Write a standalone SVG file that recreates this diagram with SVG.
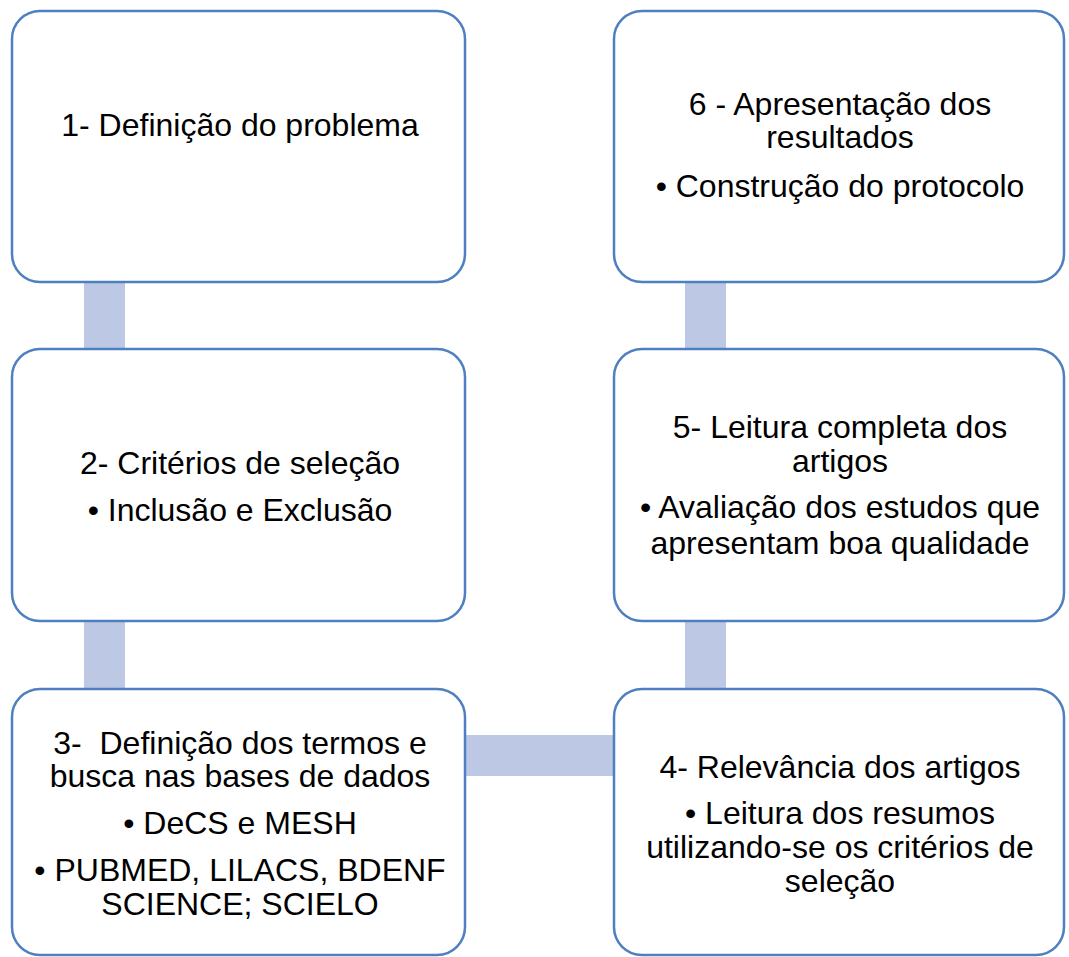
<svg xmlns="http://www.w3.org/2000/svg" width="1069" height="957" viewBox="0 0 1069 957">
<style>
.box{fill:#ffffff;stroke:#4E7FC0;stroke-width:2.5}
.con{fill:#BDC9E4}
text{font-family:"Liberation Sans",Arial,sans-serif;font-size:32px;fill:#000;text-anchor:middle;white-space:pre}
</style>
<rect width="1069" height="957" fill="#ffffff"/>
<g id="connectors">
<rect class="con" x="84" y="282" width="41" height="67"/>
<rect class="con" x="84" y="621" width="41" height="68"/>
<rect class="con" x="465" y="735" width="149" height="41"/>
<rect class="con" x="685" y="621" width="41" height="68"/>
<rect class="con" x="685" y="282" width="41" height="67"/>
</g>
<g id="node1">
<rect class="box" x="12" y="11" width="453" height="271" rx="28"/>
<text x="240" y="136">1- Definição do problema</text>
</g>
<g id="node2">
<rect class="box" x="12" y="349" width="453" height="272" rx="28"/>
<text x="240" y="474">2- Critérios de seleção</text>
<text x="240" y="521">• Inclusão e Exclusão</text>
</g>
<g id="node3">
<rect class="box" x="12" y="689" width="453" height="266" rx="28"/>
<text x="240" y="754" xml:space="preserve">3-  Definição dos termos e</text>
<text x="240" y="787">busca nas bases de dados</text>
<text x="240" y="834">• DeCS e MESH</text>
<text x="240" y="881">• PUBMED, LILACS, BDENF</text>
<text x="240" y="915">SCIENCE; SCIELO</text>
</g>
<g id="node4">
<rect class="box" x="614" y="689" width="450" height="266" rx="28"/>
<text x="840" y="778">4- Relevância dos artigos</text>
<text x="840" y="824">• Leitura dos resumos</text>
<text x="840" y="858">utilizando-se os critérios de</text>
<text x="840" y="892">seleção</text>
</g>
<g id="node5">
<rect class="box" x="614" y="349" width="450" height="272" rx="28"/>
<text x="840" y="438">5- Leitura completa dos</text>
<text x="840" y="472">artigos</text>
<text x="840" y="518">• Avaliação dos estudos que</text>
<text x="840" y="554">apresentam boa qualidade</text>
</g>
<g id="node6">
<rect class="box" x="614" y="11" width="450" height="271" rx="28"/>
<text x="840" y="115">6 - Apresentação dos</text>
<text x="840" y="148">resultados</text>
<text x="840" y="197">• Construção do protocolo</text>
</g>
</svg>
